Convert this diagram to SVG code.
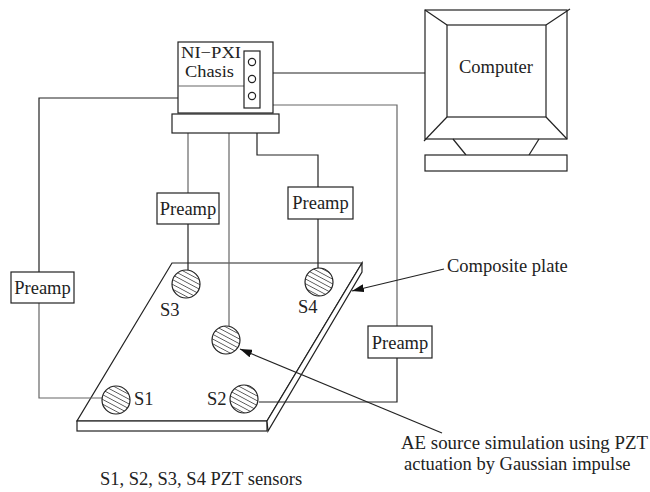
<svg xmlns="http://www.w3.org/2000/svg" width="650" height="492" viewBox="0 0 650 492">
  <defs>
    <style>
      .ln { fill: none; stroke: #222; stroke-width: 1.2; }
      .gl { fill: none; stroke: #666; stroke-width: 1.2; }
      .box { fill: #fff; stroke: #222; stroke-width: 1.2; }
      .t { font-family: "Liberation Serif", "Times New Roman", serif; font-size: 18.5px; fill: #222; }
      .ts { font-family: "Liberation Serif", "Times New Roman", serif; font-size: 16px; fill: #222; }
      .sensor { fill: url(#hatch); stroke: #222; stroke-width: 1.2; }
    </style>
    <pattern id="hatch" width="8" height="4.2" patternUnits="userSpaceOnUse" patternTransform="rotate(28)">
      <rect width="8" height="4.2" fill="#fff"/>
      <line x1="0" y1="2.1" x2="8" y2="2.1" stroke="#333" stroke-width="0.75"/>
    </pattern>
    <marker id="arrow" viewBox="0 0 12 8" refX="12" refY="4" markerWidth="12" markerHeight="8" markerUnits="userSpaceOnUse" orient="auto">
      <path d="M0,0 L12,4 L0,8 Z" fill="#111"/>
    </marker>
  </defs>

  <!-- composite plate -->
  <g id="plate">
    <polygon class="box" points="172,263 362,263 267,421 77,421"/>
    <rect class="box" x="77" y="421" width="190" height="10"/>
    <polygon class="box" points="362,263 362,272 268,431 267,421"/>
  </g>

  <!-- wiring -->
  <g id="connectors">
    <!-- chassis to computer -->
    <line class="ln" x1="273" y1="73" x2="425" y2="73"/>
    <!-- left channel: chassis to S1 via preamp -->
    <polyline class="ln" points="248,98 39,98 39,272"/>
    <polyline class="gl" points="39,303 39,398 102,398"/>
    <!-- right channel: chassis to S2 via preamp -->
    <polyline class="gl" points="273,105 397,105 397,326"/>
    <polyline class="ln" points="397,358 397,402 259,402"/>
    <!-- S3 channel -->
    <line class="gl" x1="188" y1="133" x2="188" y2="193"/>
    <line class="ln" x1="188" y1="224" x2="188" y2="270"/>
    <!-- actuator line -->
    <line class="gl" x1="229" y1="133" x2="229" y2="326"/>
    <!-- S4 channel -->
    <polyline class="ln" points="257,133 257,155 318,155 318,187"/>
    <line class="ln" x1="318" y1="219" x2="318" y2="268"/>
    <!-- pointer arrows -->
    <line class="ln" x1="444" y1="269" x2="352" y2="291" marker-end="url(#arrow)"/>
    <line class="ln" x1="442" y1="433" x2="240" y2="349" marker-end="url(#arrow)"/>
  </g>

  <!-- NI-PXI chassis and its base -->
  <g id="chassis">
    <rect class="box" x="178" y="42" width="95" height="71"/>
    <line class="gl" x1="178" y1="86" x2="244" y2="86"/>
    <rect class="box" x="244" y="51" width="16" height="57"/>
    <circle class="ln" cx="252" cy="62" r="3.6"/>
    <circle class="ln" cx="252" cy="79" r="3.6"/>
    <circle class="ln" cx="252" cy="96" r="3.6"/>
    <text class="ts" x="181" y="58" textLength="60" lengthAdjust="spacingAndGlyphs">NI−PXI</text>
    <text class="ts" x="185" y="77" textLength="49" lengthAdjust="spacingAndGlyphs">Chasis</text>
    <rect class="box" x="172" y="114" width="107" height="19"/>
  </g>

  <!-- monitor -->
  <g id="computer">
    <rect class="box" x="425" y="10" width="142" height="129"/>
    <rect class="box" x="447" y="25" width="99" height="92"/>
    <line class="ln" x1="425" y1="10" x2="447" y2="25"/>
    <line class="ln" x1="570" y1="9" x2="546" y2="25"/>
    <line class="ln" x1="424" y1="141" x2="447" y2="117"/>
    <line class="ln" x1="567" y1="139" x2="546" y2="117"/>
    <polyline class="ln" points="453,139 466,155"/>
    <polyline class="ln" points="539,139 529,155"/>
    <rect class="box" x="425" y="155" width="142" height="16"/>
    <text class="t" x="496" y="73" text-anchor="middle">Computer</text>
  </g>

  <!-- preamplifiers -->
  <g id="preamp-left">
    <rect class="box" x="11" y="272" width="63" height="31"/>
    <text class="t" x="42.5" y="294" text-anchor="middle">Preamp</text>
  </g>
  <g id="preamp-s3">
    <rect class="box" x="157" y="193" width="62" height="31"/>
    <text class="t" x="188" y="215" text-anchor="middle">Preamp</text>
  </g>
  <g id="preamp-s4">
    <rect class="box" x="288" y="187" width="65" height="32"/>
    <text class="t" x="320.5" y="209" text-anchor="middle">Preamp</text>
  </g>
  <g id="preamp-right">
    <rect class="box" x="368" y="326" width="64" height="32"/>
    <text class="t" x="400" y="349" text-anchor="middle">Preamp</text>
  </g>

  <!-- sensors and actuator -->
  <g id="sensor-s3">
    <circle class="sensor" cx="186" cy="284" r="14"/>
    <text class="t" x="160" y="316">S3</text>
  </g>
  <g id="sensor-s4">
    <circle class="sensor" cx="319" cy="282" r="14"/>
    <text class="t" x="298" y="313">S4</text>
  </g>
  <g id="actuator">
    <circle class="sensor" cx="226" cy="340" r="14"/>
  </g>
  <g id="sensor-s1">
    <circle class="sensor" cx="116" cy="400" r="14"/>
    <text class="t" x="134" y="405">S1</text>
  </g>
  <g id="sensor-s2">
    <circle class="sensor" cx="244" cy="399" r="14"/>
    <text class="t" x="207" y="405">S2</text>
  </g>

  <!-- annotations -->
  <g id="labels">
    <text class="t" x="447" y="272">Composite plate</text>
    <text class="t" x="401" y="449" textLength="247" lengthAdjust="spacingAndGlyphs">AE source simulation using PZT</text>
    <text class="t" x="404" y="470">actuation by Gaussian impulse</text>
    <text class="t" x="100" y="485">S1, S2, S3, S4 PZT sensors</text>
  </g>
</svg>
